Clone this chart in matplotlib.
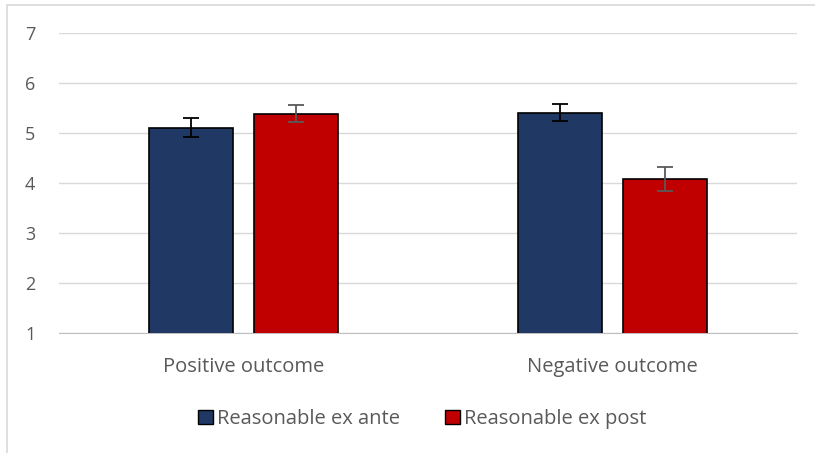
import numpy as np
import matplotlib
matplotlib.use("Agg")
import matplotlib.pyplot as plt
from matplotlib.patches import Rectangle, Patch

# data
categories = ["Positive outcome", "Negative outcome"]
series_names = ["Reasonable ex ante", "Reasonable ex post"]
ex_ante = [5.11, 5.41]
ex_post = [5.39, 4.08]
ex_ante_err = [0.185, 0.175]
ex_post_err = [0.175, 0.235]
yticks = [1, 2, 3, 4, 5, 6, 7]

blue = "#1f3864"
red = "#c00000"
txt = "#595959"
grid = "#d9d9d9"

plt.rcParams["font.family"] = ["Open Sans", "DejaVu Sans"]

fig = plt.figure(figsize=(8.15, 4.53), dpi=100)
# chart frame: only top and left edges fall inside the picture
fig.patches.append(Rectangle((0.009, -0.05), 1.1, 1.04, transform=fig.transFigure,
                             fill=False, edgecolor=grid, linewidth=1.2))
ax = fig.add_axes([0.0724, 0.265, 0.9056, 0.662])

x = np.arange(len(categories))
w = 0.228
off = 0.142
ax.bar(x - off, ex_ante, w, bottom=0, color=blue, edgecolor="black", linewidth=1.2, zorder=3)
ax.bar(x + off, ex_post, w, bottom=0, color=red, edgecolor="black", linewidth=1.2, zorder=3)
ax.errorbar(x - off, ex_ante, yerr=ex_ante_err, fmt="none", ecolor="black",
            elinewidth=1.3, capsize=6, capthick=1.3, zorder=4)
ax.errorbar(x + off, ex_post, yerr=ex_post_err, fmt="none", ecolor=txt,
            elinewidth=1.3, capsize=6, capthick=1.3, zorder=4)

ax.set_ylim(1, 7)
ax.set_xlim(-0.5, 1.5)
ax.set_yticks(yticks)
ax.set_xticks(x)
ax.set_xticklabels(categories)
ax.yaxis.grid(True, color=grid, linewidth=1.0, zorder=0)
ax.set_axisbelow(True)
for s in ["top", "right", "left"]:
    ax.spines[s].set_visible(False)
ax.spines["bottom"].set_color("#bfbfbf")
ax.tick_params(axis="both", length=0, labelsize=13, labelcolor=txt)
ax.tick_params(axis="x", labelsize=14.5, pad=17)
ax.tick_params(axis="y", pad=17)

handles = [Patch(facecolor=blue, edgecolor="black", label=series_names[0]),
           Patch(facecolor=red, edgecolor="black", label=series_names[1])]
fig.legend(handles=handles, loc="center", bbox_to_anchor=(0.518, 0.075), ncol=2,
           frameon=False, fontsize=14.5, labelcolor=txt, handlelength=0.75,
           handleheight=0.75, handletextpad=0.2, columnspacing=2.2)

fig.savefig("out.png", dpi=100)
